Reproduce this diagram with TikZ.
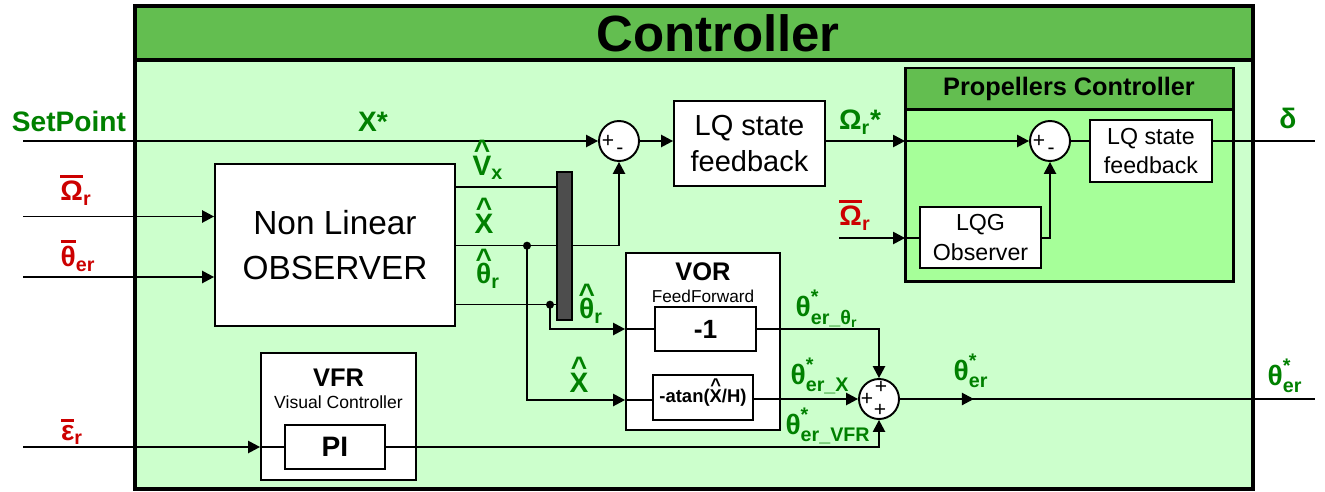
\documentclass[tikz,border=0pt]{standalone}
\usepackage{amsmath}
\usepackage{fontspec}
\setmainfont{Liberation Sans}
\usepackage{xcolor}
\usetikzlibrary{arrows.meta,positioning,decorations.markings}
\definecolor{titlegreen}{RGB}{99,190,80}
\definecolor{panelgreen}{RGB}{204,255,204}
\definecolor{propgreen}{RGB}{166,255,153}
\definecolor{siggreen}{RGB}{0,128,0}
\definecolor{sigred}{RGB}{204,0,0}
\definecolor{busgray}{RGB}{77,77,77}
\newcommand{\hatted}[1]{\ooalign{#1\cr\hidewidth\raisebox{0.56em}{\char"5E}\hidewidth\cr}}
\newcommand{\barred}[1]{\leavevmode\setbox0\hbox{#1}\rlap{\rule[\dimexpr\ht0+0.12em\relax]{\wd0}{0.1em}}\box0}
\tikzset{
  diagram/.style={x=0.02cm,y=-0.02cm,>={Triangle[length=6.8pt,width=7pt]}},
  block/.style={draw,line width=1.1pt,fill=white,inner sep=0pt,align=center},
  sumnode/.style={circle,draw,line width=1.1pt,fill=white,minimum size=0.8cm,inner sep=0pt},
  sig/.style={line width=0.85pt},
  flow/.style={sig,->},
  midflow/.style={sig,
    decoration={markings,mark=at position #1 with {\arrow{>}}},
    postaction={decorate}
  },
  gname/.style={text=siggreen,font=\fontsize{16}{18}\selectfont\bfseries,inner sep=0pt},
  rname/.style={gname,text=sigred},
  sign/.style={font=\fontsize{12}{12}\selectfont,inner sep=0pt},
  junction/.style={circle,fill,inner sep=0pt,minimum size=4.6pt}
}
\begin{document}
\begin{tikzpicture}[diagram]
  \useasboundingbox (0,0) rectangle (1325,491);

  % outer frame
  \draw[line width=2.3pt,fill=panelgreen] (135,6) rectangle (1253,489);
  \draw[line width=2.3pt,fill=titlegreen] (135,6) rectangle (1253,60);
  \node[font=\fontsize{29}{30}\selectfont\bfseries] (title) at (718,33) {Controller};

  % propellers controller
  \draw[line width=1.7pt,fill=propgreen] (905,68) rectangle (1233,281);
  \draw[line width=1.7pt,fill=titlegreen] (905,68) rectangle (1233,109);
  \node[font=\fontsize{14.4}{16}\selectfont\bfseries] (proptitle) at (1069,88.5) {Propellers Controller};

  \node[block,minimum width=4.8cm,minimum height=3.24cm,font=\fontsize{19}{25.5}\selectfont] (obs) at (335,245) {Non Linear\\OBSERVER};
  \node[block,minimum width=3.02cm,minimum height=1.7cm,font=\fontsize{16.5}{21}\selectfont] (lqa) at (749.5,143.5) {LQ state\\feedback};
  \node[block,minimum width=2.44cm,minimum height=1.24cm,font=\fontsize{13.2}{16}\selectfont] (lqb) at (1151,151) {LQ state\\feedback};
  \node[block,minimum width=2.42cm,minimum height=1.22cm,font=\fontsize{13.2}{17}\selectfont] (lqg) at (980.5,237.5) {LQG\\Observer};
  \node[block,minimum width=3.08cm,minimum height=3.54cm] (vor) at (703,341.5) {};
  \node[font=\fontsize{14.5}{16}\selectfont\bfseries] (vortitle) at (703,271.5) {VOR};
  \node[font=\fontsize{9.8}{11}\selectfont] (vorsub) at (703,296) {FeedForward};
  \node[block,minimum width=2.02cm,minimum height=0.88cm,font=\fontsize{15}{16}\selectfont\bfseries] (neg) at (705.5,329) {-1};
  \node[block,minimum width=2cm,minimum height=0.9cm,font=\fontsize{10.5}{12}\selectfont\bfseries] (atan) at (703,397.5) {-atan(\hatted{X}/H)};
  \node[block,minimum width=3.1cm,minimum height=2.54cm] (vfr) at (338.5,416.5) {};
  \node[font=\fontsize{14.5}{16}\selectfont\bfseries] (vfrtitle) at (338.5,378) {VFR};
  \node[font=\fontsize{10}{11}\selectfont] (vfrsub) at (338.5,402) {Visual Controller};
  \node[block,minimum width=2cm,minimum height=0.88cm,font=\fontsize{16}{17}\selectfont\bfseries] (pi) at (335,447) {PI};
  \node[draw,line width=0.6pt,fill=busgray,minimum width=0.3cm,minimum height=2.96cm,inner sep=0pt] (bus) at (564.5,246) {};

  \node[sumnode] (s1) at (619,141) {};
  \node[sumnode] (s2) at (1050,141) {};
  \node[sumnode] (s3) at (879,399) {};
  \node[sign] (s1p) at (608,141) {+};
  \node[sign] (s1m) at (620,151) {-};
  \node[sign] (s2p) at (1039,141) {+};
  \node[sign] (s2m) at (1051,151) {-};
  \node[sign] (s3a) at (881,387) {+};
  \node[sign] (s3b) at (867,399) {+};
  \node[sign] (s3c) at (880,410) {+};

  \coordinate (spin) at (23,141);
  \coordinate (omin) at (23,216.5);
  \coordinate (thin) at (23,277);
  \coordinate (epsin) at (23,447);
  \coordinate (omin2) at (839,238);
  \coordinate (propin) at (905,141);
  \coordinate (propin2) at (905,238);
  \coordinate (deltaout) at (1315,141);
  \coordinate (thout) at (1315,399);
  \node[junction] (jx) at (527,245.7) {};
  \node[junction] (jt) at (550,304.7) {};

  \draw[flow] (spin) -- (s1);
  \draw[flow] (s1) -- (lqa.west |- s1);
  \draw[flow] (lqa.east |- s1) -- (propin);
  \draw[flow] (propin) -- (s2);
  \draw[sig] (s2) -- (lqb.west |- s2);
  \draw[sig] (lqb.east |- s2) -- (deltaout);
  \draw[flow] (omin2) -- (propin2);
  \draw[sig] (propin2) -- (lqg.west |- propin2);
  \draw[flow] (lqg.east |- propin2) -| (s2);
  \draw[flow] (omin) -- (obs.west |- omin);
  \draw[flow] (thin) -- (obs.west |- thin);
  \draw[sig] (obs.east |- 0,187) -- (bus.west |- 0,187);
  \draw[sig] (obs.east |- jx) -- (bus.west |- jx);
  \draw[sig] (obs.east |- jt) -- (bus.west |- jt);
  \draw[flow] (bus.east |- jx) -| (s1);
  \draw[flow] (jx.center) |- (vor.west |- 0,400);
  \draw[sig] (vor.west |- 0,400) -- (atan.west |- 0,400);
  \draw[flow] (jt.center) |- (vor.west |- neg);
  \draw[sig] (vor.west |- neg) -- (neg);
  \draw[flow] (neg) -| (s3);
  \draw[flow] (atan.east |- s3) -- (s3);
  \draw[flow] (epsin) -- (vfr.west |- epsin);
  \draw[sig] (vfr.west |- epsin) -- (pi.west |- epsin);
  \draw[flow] (pi.east |- epsin) -| (s3);
  \draw[midflow=0.178] (s3) -- (thout);

  \node[gname] (setpt) at (69,121) {SetPoint};
  \node[gname] (xstar) at (373,122) {X*};
  \node[rname] (ombar) at (76,190) {$\text{\barred{Ω}}_{\text{r}}$};
  \node[rname] (thbar) at (78,256) {$\text{\barred{θ}}_{\text{er}}$};
  \node[rname] (epsbar) at (72,432) {$\text{\barred{ε}}_{\text{r}}$};
  \node[rname] (ombar2) at (855,215) {$\text{\barred{Ω}}_{\text{r}}$};
  \node[gname] (vxhat) at (488,168) {$\text{\hatted{V}}_{\text{x}}$};
  \node[gname] (xhat) at (484,224) {\hatted{X}};
  \node[gname] (thhat) at (488,276) {$\text{\hatted{θ}}_{\text{r}}$};
  \node[gname] (thhat2) at (591,311) {$\text{\hatted{θ}}_{\text{r}}$};
  \node[gname] (xhat2) at (579,383) {\hatted{X}};
  \node[gname] (omstar) at (860,122) {$\text{Ω}_{\text{r}}\text{*}$};
  \node[gname] (delta) at (1288,118) {δ};
  \node[gname] (therth) at (827,309) {$\text{θ}^{\text{*}}_{\text{er\_θ}_{\text{r}}}$};
  \node[gname] (therx) at (820,376) {$\text{θ}^{\text{*}}_{\text{er\_X}}$};
  \node[gname] (thervfr) at (828,426) {$\text{θ}^{\text{*}}_{\text{er\_VFR}}$};
  \node[gname] (ther) at (971,371) {$\text{θ}^{\text{*}}_{\text{er}}$};
  \node[gname] (therout) at (1285,376) {$\text{θ}^{\text{*}}_{\text{er}}$};
\end{tikzpicture}
\end{document}
